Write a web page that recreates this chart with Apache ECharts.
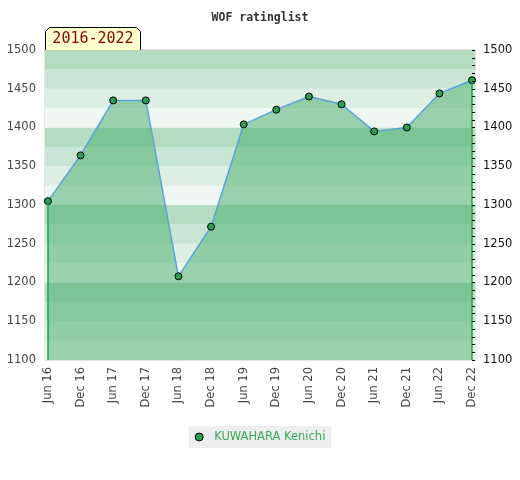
<!DOCTYPE html>
<html>
<head>
<meta charset="utf-8">
<script src="https://cdn.jsdelivr.net/npm/echarts@6/dist/echarts.min.js"></script>
<style>html,body{margin:0;padding:0;background:#fff}#c{width:520px;height:480px}</style>
</head>
<body>
<div id="c"></div>
<script>
const categories = ['Jun 16','Dec 16','Jun 17','Dec 17','Jun 18','Dec 18','Jun 19','Dec 19','Jun 20','Dec 20','Jun 21','Dec 21','Jun 22','Dec 22'];
const ratings = [1305,1364,1435,1435,1208,1272,1404,1423,1440,1430,1395,1400,1444,1461];
const playerName = 'KUWAHARA Kenichi';
const chartTitle = 'WOF ratinglist';
const periodLabel = '2016-2022';
const yMin = 1100, yMax = 1500;

const bandColors = ['#eff7f2','#dcefe2','#c8e6d3','#b3dcc0'];
const bands = [];
for (let v = yMin, k = 0; v < yMax; v += 25, k++) {
  bands.push([{yAxis: v, itemStyle: {color: bandColors[k % 4], opacity: 1}}, {yAxis: v + 25}]);
}
const pts = ratings.map((r, i) => [i, r]);
const last = ratings.length - 1;

const chart = echarts.init(document.getElementById('c'));
chart.setOption({
  animation: false,
  title: {
    text: chartTitle, left: 'center', top: 7,
    textStyle: {fontFamily: 'DejaVu Sans Mono', fontWeight: 'bold', fontSize: 11.5, color: '#333'}
  },
  grid: {left: 45, right: 45, top: 50, bottom: 120, show: true, borderColor: '#dcdcdc', borderWidth: 1.5, backgroundColor: 'transparent'},
  xAxis: {
    type: 'value', min: -0.09, max: last + 0.09,
    axisLine: {show: false}, axisTick: {show: false}, splitLine: {show: false},
    axisLabel: {
      customValues: categories.map((c, i) => i),
      formatter: v => categories[Math.round(v)] || '',
      rotate: 90, margin: 7, color: '#444', fontSize: 11.5, fontFamily: 'DejaVu Sans'
    }
  },
  yAxis: [{
    type: 'value', min: yMin, max: yMax, interval: 50, z: 10,
    axisLine: {show: false}, axisTick: {show: false}, splitLine: {show: false},
    axisLabel: {color: '#444', fontSize: 11.5, fontFamily: 'DejaVu Sans', margin: 9, formatter: v => String(v)}
  }, {
    type: 'value', min: yMin, max: yMax, interval: 10, position: 'right', z: 10,
    axisLine: {show: false}, splitLine: {show: false},
    axisTick: {show: true, inside: true, length: 3, lineStyle: {color: '#000', width: 1}},
    axisLabel: {color: '#111', fontSize: 11.5, fontFamily: 'DejaVu Sans', margin: 8,
      formatter: v => (v % 50 === 0 ? String(v) : '')}
  }],
  legend: {
    top: 426, left: 'center', backgroundColor: '#eeeeee', padding: [5, 6, 5, 6],
    itemWidth: 8, itemHeight: 8,
    textStyle: {color: '#3aa858', fontSize: 11.5, fontFamily: 'DejaVu Sans', padding: [0, 0, 0, 6]},
    data: [{name: playerName, icon: 'circle', itemStyle: {color: '#2e9e57', borderColor: '#000', borderWidth: 1}}]
  },
  graphic: [{
    type: 'group', left: 45, top: 27,
    children: [{
      type: 'polygon',
      shape: {points: [[0, 23], [0, 4], [4, 0], [91, 0], [95, 4], [95, 23]]},
      style: {fill: '#ffffcc', stroke: '#000', lineWidth: 1}
    }, {
      type: 'text', x: 47.5, y: 12,
      style: {text: periodLabel, fill: '#8b0000', font: '15px "DejaVu Sans Mono"', align: 'center', verticalAlign: 'middle'}
    }]
  }],
  series: [{
    type: 'line', name: 'bands', data: pts, z: 1, silent: true,
    showSymbol: false, lineStyle: {width: 0, opacity: 0},
    markArea: {silent: true, data: bands}
  }, {
    type: 'line', name: playerName, data: pts, z: 3,
    symbol: 'circle', symbolSize: 7,
    itemStyle: {color: '#2e9e57', borderColor: '#000', borderWidth: 1},
    lineStyle: {color: '#5ba3d9', width: 1.5},
    areaStyle: {color: '#43ac6c', opacity: 0.5, origin: 'start'},
    markLine: {
      silent: true, symbol: 'none', label: {show: false},
      lineStyle: {color: '#22a04a', width: 1.5, type: 'solid'},
      data: [
        [{coord: [0, ratings[0]]}, {coord: [0, yMin]}],
        [{coord: [last, ratings[last]]}, {coord: [last, yMin]}]
      ]
    }
  }]
});
</script>
</body>
</html>
